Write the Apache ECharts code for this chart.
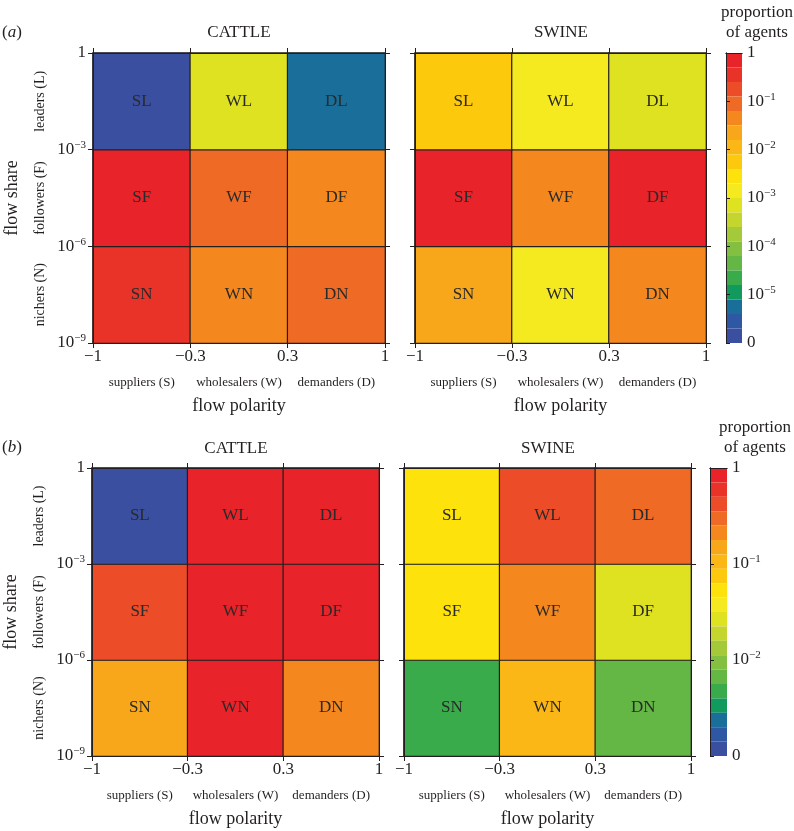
<!DOCTYPE html>
<html><head><meta charset="utf-8">
<script src="https://cdn.jsdelivr.net/npm/echarts@6/dist/echarts.min.js"></script>
<style>html,body{margin:0;padding:0;background:#fff}#c{width:794px;height:831px}</style>
</head><body><div id="c"></div>
<script>
// ---------------- data ----------------
const polarityCats = ['suppliers (S)', 'wholesalers (W)', 'demanders (D)'];
const shareCats = ['nichers (N)', 'followers (F)', 'leaders (L)'];
const polarityTicks = ['\u22121', '\u22120.3', '0.3', '1'];
const shareTicks = ['10^\u22129', '10^\u22126', '10^\u22123', '1'];
const cellNames = [['SN', 'WN', 'DN'], ['SF', 'WF', 'DF'], ['SL', 'WL', 'DL']];
// proportion of agents; rows N, F, L (bottom -> top); columns S, W, D
const cattleA = [[0.32, 0.035, 0.07], [0.55, 0.07, 0.04], [0, 0.0007, 0.000005]];
const swineA  = [[0.022, 0.0015, 0.04], [0.6, 0.045, 0.52], [0.005, 0.0014, 0.0007]];
const cattleB = [[0.16, 0.9, 0.2], [0.4, 0.92, 0.88], [0, 0.85, 0.8]];
const swineB  = [[0.0045, 0.1, 0.0063], [0.055, 0.2, 0.028], [0.05, 0.4, 0.3]];
const colorbarTicksA = ['0', '10^\u22125', '10^\u22124', '10^\u22123', '10^\u22122', '10^\u22121', '1'];
const colorbarTicksB = ['0', '10^\u22122', '10^\u22121', '1'];
const palette = ['#3a4fa0', '#2e57a4', '#1a6f9a', '#119a5e', '#3aab4a', '#64b745', '#83c042', '#a4ca3a',
  '#c4d62e', '#dfe220', '#f5ea1f', '#fde20c', '#fdc90c', '#fbb716', '#f9a71a', '#f4881f',
  '#ef6a24', '#ec4c27', '#ea3328', '#e8232a'];

// ---------------- helpers ----------------
const FONT = 'Liberation Serif';
const INK = '#231f20';
function supRich(size) {
  return {
    n: { fontSize: size, fontFamily: FONT, color: INK },
    s: { fontSize: Math.round(size * 0.66), fontFamily: FONT, color: INK, padding: [0, 0, Math.round(size * 0.55), 0] }
  };
}
function fmtPow(str) {
  const i = str.indexOf('^');
  return i < 0 ? '{n|' + str + '}' : '{n|' + str.slice(0, i) + '}{s|' + str.slice(i + 1) + '}';
}
const grids = [], xAxes = [], yAxes = [], series = [], graphics = [];
const lineStyle = { color: INK, width: 1 };

function addPanel(rect, values, minLog, showY) {
  const g = grids.length;
  grids.push(Object.assign({ containLabel: false }, rect));
  const xi = xAxes.length, yi = yAxes.length;
  xAxes.push({
    gridIndex: g, type: 'category', data: polarityCats, position: 'bottom',
    axisLine: { show: false }, axisTick: { show: false }, splitLine: { show: false },
    axisLabel: { margin: 33, fontSize: 13, fontFamily: FONT, color: INK, interval: 0 },
    name: 'flow polarity', nameLocation: 'middle', nameGap: 54,
    nameTextStyle: { fontSize: 18, fontFamily: FONT, color: INK }
  });
  xAxes.push({
    gridIndex: g, type: 'value', min: 0, max: 3, interval: 1, position: 'bottom', z: 10,
    axisLine: { show: true, lineStyle }, axisTick: { show: true, length: 5, lineStyle },
    splitLine: { show: false },
    axisLabel: { margin: 5, fontSize: 17, fontFamily: FONT, color: INK, formatter: v => polarityTicks[Math.round(v)] }
  });
  xAxes.push({
    gridIndex: g, type: 'value', min: 0, max: 3, interval: 1, position: 'top', z: 10,
    axisLine: { show: true, lineStyle }, axisTick: { show: true, length: 5, lineStyle },
    splitLine: { show: false }, axisLabel: { show: false }
  });
  yAxes.push({
    gridIndex: g, type: 'category', data: shareCats, position: 'left',
    axisLine: { show: false }, axisTick: { show: false }, splitLine: { show: false },
    axisLabel: { show: showY, rotate: 90, margin: 46, fontSize: 14, fontFamily: FONT, color: INK, interval: 0 },
    name: showY ? 'flow share' : '', nameLocation: 'middle', nameGap: 72,
    nameTextStyle: { fontSize: 18, fontFamily: FONT, color: INK }
  });
  yAxes.push({
    gridIndex: g, type: 'value', min: 0, max: 3, interval: 1, position: 'left', z: 10,
    axisLine: { show: true, lineStyle }, axisTick: { show: true, length: 5, lineStyle },
    splitLine: { show: false },
    axisLabel: { show: showY, margin: 7, formatter: v => fmtPow(shareTicks[Math.round(v)]), rich: supRich(17) }
  });
  yAxes.push({
    gridIndex: g, type: 'value', min: 0, max: 3, interval: 1, position: 'right', z: 10,
    axisLine: { show: true, lineStyle }, axisTick: { show: true, length: 5, lineStyle },
    splitLine: { show: false }, axisLabel: { show: false }
  });
  const data = [];
  values.forEach((row, r) => row.forEach((p, c) => {
    data.push([c, r, p > 0 ? Math.max(Math.log10(p), minLog) : minLog]);
  }));
  series.push({
    type: 'heatmap', xAxisIndex: xi, yAxisIndex: yi, data,
    itemStyle: { borderColor: INK, borderWidth: 1.2 },
    label: { show: true, fontSize: 17, fontFamily: FONT, color: '#2a2a2a',
      formatter: p => cellNames[p.data[1]][p.data[0]] },
    emphasis: { disabled: true }
  });
  return series.length - 1;
}

function addColorbar(rect, minLog, ticks) {
  const g = grids.length;
  grids.push(rect);
  const base = { gridIndex: g, type: 'value', z: 10, splitLine: { show: false } };
  xAxes.push(Object.assign({}, base, { min: 0, max: 1, position: 'bottom', axisLine: { show: true, lineStyle }, axisTick: { show: false }, axisLabel: { show: false } }));
  xAxes.push(Object.assign({}, base, { min: 0, max: 1, position: 'top', axisLine: { show: true, lineStyle }, axisTick: { show: false }, axisLabel: { show: false } }));
  yAxes.push(Object.assign({}, base, { min: minLog, max: 0, position: 'left', axisLine: { show: true, lineStyle }, axisTick: { show: false }, axisLabel: { show: false } }));
  yAxes.push(Object.assign({}, base, {
    min: minLog, max: 0, interval: 1, position: 'right',
    axisLine: { show: true, lineStyle }, axisTick: { show: true, length: 4, lineStyle },
    axisLabel: { margin: 5, formatter: v => fmtPow(ticks[Math.round(v - minLog)]), rich: supRich(17) }
  }));
}
function makePieces(minLog) {
  const step = -minLog / palette.length;
  return palette.map((c, i) => ({
    min: i === 0 ? -100 : minLog + i * step,
    max: i === palette.length - 1 ? 100 : minLog + (i + 1) * step,
    color: c
  }));
}

// ---------------- layout ----------------
const sA1 = addPanel({ left: 93, top: 53, width: 292, height: 290 }, cattleA, -6, true);
const sA2 = addPanel({ left: 415, top: 53, width: 291, height: 290 }, swineA, -6, false);
addColorbar({ left: 726, top: 53, width: 16, height: 290 }, -6, colorbarTicksA);
const sB1 = addPanel({ left: 92, top: 468, width: 287, height: 288 }, cattleB, -3, true);
const sB2 = addPanel({ left: 404, top: 468, width: 287, height: 288 }, swineB, -3, false);
addColorbar({ left: 710, top: 468, width: 17, height: 288 }, -3, colorbarTicksB);

function txt(text, x, y, size, extra) {
  graphics.push({ type: 'text', x, y, z: 20, style: Object.assign({ text, fontSize: size, fontFamily: FONT, fill: INK, align: 'center', verticalAlign: 'middle' }, extra || {}) });
}
txt('CATTLE', 239, 33, 17);
txt('SWINE', 561, 33, 17);
txt('CATTLE', 236, 449, 17);
txt('SWINE', 548, 449, 17);
txt('proportion', 757, 13, 17);
txt('of agents', 757, 33, 17);
txt('proportion', 755, 428, 17);
txt('of agents', 755, 448, 17);
txt('({i|a})', 12, 33, 17, { rich: { i: { fontStyle: 'italic', fontSize: 17, fontFamily: FONT, fill: INK } } });
txt('({i|b})', 12, 448, 17, { rich: { i: { fontStyle: 'italic', fontSize: 17, fontFamily: FONT, fill: INK } } });

const option = {
  backgroundColor: '#fff',
  animation: false,
  grid: grids, xAxis: xAxes, yAxis: yAxes, series,
  visualMap: [
    { type: 'piecewise', pieces: makePieces(-6), seriesIndex: [sA1, sA2], orient: 'vertical',
      left: 726, top: 53, itemWidth: 16, itemHeight: 14.5, itemGap: 0, itemSymbol: 'rect',
      showLabel: false, padding: 0, hoverLink: false, selectedMode: false },
    { type: 'piecewise', pieces: makePieces(-3), seriesIndex: [sB1, sB2], orient: 'vertical',
      left: 710, top: 468, itemWidth: 17, itemHeight: 14.4, itemGap: 0, itemSymbol: 'rect',
      showLabel: false, padding: 0, hoverLink: false, selectedMode: false }
  ],
  graphic: graphics
};
const chart = echarts.init(document.getElementById('c'), null, { renderer: 'canvas' });
chart.setOption(option);
</script></body></html>
